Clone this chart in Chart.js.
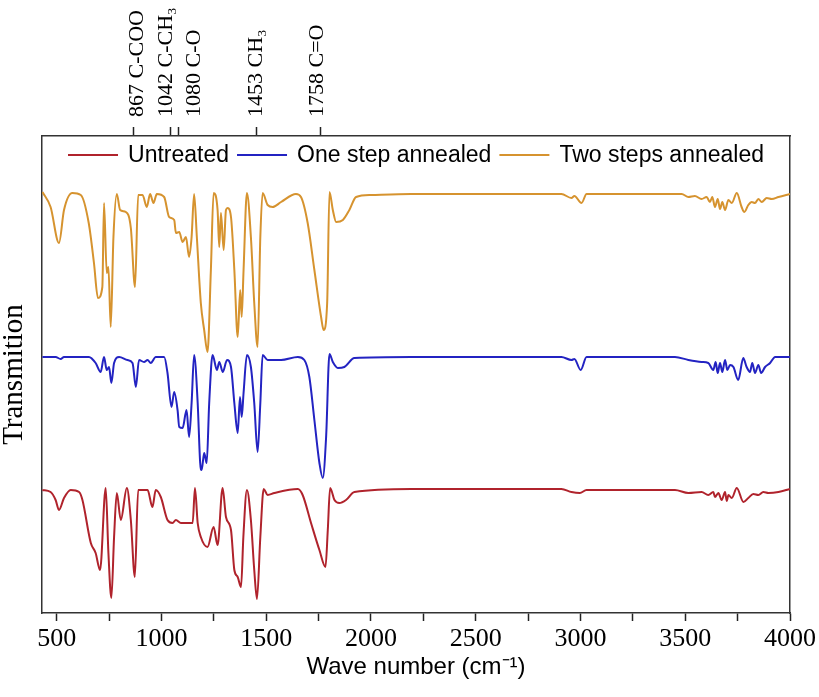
<!DOCTYPE html>
<html>
<head>
<meta charset="utf-8">
<title>FTIR spectra</title>
<script src="https://cdn.jsdelivr.net/npm/chart.js@4.4.1/dist/chart.umd.min.js"></script>
<style>
  html, body { margin: 0; padding: 0; background: #fff; }
  #wrap { width: 819px; height: 697px; }
</style>
</head>
<body>
<div id="wrap"><canvas id="ftirChart" width="819" height="697"></canvas></div>
<script>
// Wave numbers (cm-1) and transmission (a.u., curves stacked)
const untreatedWn = [432,471,495,511,535,567,607,623,663,686,707,734,747,761,774,787,806,835,854,873,889,934,957,973,997,1029,1053,1069,1093,1149,1160,1173,1188,1220,1249,1268,1292,1308,1332,1348,1364,1380,1391,1408,1427,1443,1456,1472,1488,1507,1539,1651,1674,1714,1754,1783,1794,1805,1826,1849,1881,1921,2192,2909,2957,2997,3029,3451,3515,3578,3610,3634,3642,3658,3674,3690,3698,3706,3722,3746,3778,3801,3825,3849,3873,3897,3945,4000];
const untreatedT = [123,121,113,103,115,123,121,113,70,60,43,125,60,15,76,120,93,125,93,36,123,123,106,123,116,93,90,93,90,90,125,90,76,66,86,68,125,96,83,43,36,26,76,123,93,43,14,76,124,118,120,124,118,90,63,46,83,125,113,110,113,121,124,124,121,120,123,123,120,121,118,121,116,120,113,121,112,118,115,125,111,115,119,118,121,120,121,124];

const oneStepWn = [432,495,519,535,654,686,710,726,739,750,761,774,798,838,862,878,893,917,934,949,973,1013,1029,1048,1061,1077,1085,1101,1120,1132,1144,1156,1173,1185,1192,1204,1216,1228,1244,1265,1276,1293,1313,1332,1348,1364,1375,1383,1392,1408,1427,1443,1459,1472,1483,1507,1571,1651,1682,1706,1730,1754,1770,1786,1802,1818,1842,1873,1921,2192,2909,2957,2971,3001,3029,3451,3515,3578,3610,3634,3645,3655,3666,3677,3690,3701,3714,3730,3753,3777,3793,3809,3820,3833,3849,3862,3881,3905,3929,4000];
const oneStepT = [256,256,254,256,256,250,241,256,243,246,230,250,256,253,250,226,253,251,253,250,256,256,240,206,221,203,186,185,203,176,210,258,210,150,143,160,150,210,258,243,251,241,253,246,210,180,216,196,220,258,246,210,161,210,258,253,253,256,253,236,193,150,135,176,259,251,245,246,255,256,256,253,254,243,256,256,253,251,250,243,251,240,250,241,253,243,248,246,233,255,246,241,250,240,248,240,246,250,256,256];

const twoStepsWn = [432,471,511,535,575,615,653,678,697,718,726,739,747,758,771,787,803,830,854,874,889,910,930,946,962,978,1013,1037,1061,1069,1085,1101,1117,1132,1144,1156,1169,1188,1204,1220,1236,1249,1268,1276,1284,1297,1308,1316,1332,1348,1364,1376,1383,1392,1408,1427,1443,1459,1472,1483,1507,1531,1571,1642,1666,1698,1730,1762,1774,1791,1802,1818,1834,1866,1897,1929,2001,2192,2909,2957,2971,3005,3029,3483,3515,3546,3578,3602,3618,3629,3642,3655,3666,3677,3690,3706,3722,3746,3769,3782,3801,3817,3833,3849,3865,3889,3913,3945,4000];
const twoStepsT = [421,406,370,403,420,418,390,350,315,326,410,340,346,286,376,419,403,401,385,326,418,418,406,419,410,419,416,396,393,380,381,371,376,356,376,419,376,310,283,261,343,420,403,366,400,363,403,405,396,343,276,323,296,343,420,376,310,266,376,420,408,406,411,419,416,390,343,296,283,310,421,403,391,393,403,416,418,419,419,415,417,410,419,419,416,417,414,416,411,416,406,414,404,411,403,413,410,420,406,401,408,411,410,414,411,415,414,416,419];

const seriesNames = ["Untreated", "One step annealed", "Two steps annealed"];
const seriesColors = ["#b0232c", "#2323c2", "#d6932f"];

// bottom axis ticks (labelled every 500)
const xTickValues = [500, 750, 1000, 1250, 1500, 1750, 2000, 2250, 2500, 2750, 3000, 3250, 3500, 3750, 4000];

// band assignments marked along the top of the frame
const bandPositions = [867, 1042, 1080, 1453, 1758];
const bandLabels = ["867 C-COO", "1042 C-CH\u2083", "1080 C-O", "1453 CH\u2083", "1758 C=O"];
// where each band label sits (kept apart where bands are close)
const bandLabelAt = [879, 1015, 1151, 1447, 1738];

function toPoints(wn, t) {
  return wn.map((x, i) => ({ x: x, y: t[i] }));
}

const seriesData = [
  toPoints(untreatedWn, untreatedT),
  toPoints(oneStepWn, oneStepT),
  toPoints(twoStepsWn, twoStepsT)
];

// legend drawn inside the frame, centred at the top
const insideLegend = {
  id: "insideLegend",
  afterDraw(chart) {
    const { ctx, chartArea } = chart;
    const sets = chart.data.datasets;
    const lineLen = 50, gap = 10, spacing = 8;
    ctx.save();
    ctx.font = '23px "Liberation Sans", Arial, sans-serif';
    ctx.textBaseline = "middle";
    const widths = sets.map(d => lineLen + gap + ctx.measureText(d.label).width);
    const total = widths.reduce((a, b) => a + b, 0) + spacing * (sets.length - 1);
    let x = (chartArea.left + chartArea.right) / 2 - total / 2;
    const y = chartArea.top + 19;
    sets.forEach((d, i) => {
      ctx.strokeStyle = d.borderColor;
      ctx.lineWidth = 2;
      ctx.beginPath();
      ctx.moveTo(x, y);
      ctx.lineTo(x + lineLen, y);
      ctx.stroke();
      ctx.fillStyle = "#000";
      ctx.fillText(d.label, x + lineLen + gap, y + 1);
      x += widths[i] + spacing;
    });
    ctx.restore();
  }
};

const frameColor = "#333";
const serif = "Liberation Serif";

const ctx = document.getElementById("ftirChart").getContext("2d");
const ftirChart = new Chart(ctx, {
  type: "line",
  data: {
    datasets: seriesNames.map((name, i) => ({
      label: name,
      data: seriesData[i],
      borderColor: seriesColors[i],
      backgroundColor: seriesColors[i],
      borderWidth: 2,
      pointRadius: 0,
      cubicInterpolationMode: "monotone",
      fill: false,
      xAxisID: "x",
      yAxisID: "y"
    }))
  },
  options: {
    responsive: false,
    animation: false,
    layout: { padding: 0 },
    plugins: {
      legend: { display: false },
      tooltip: { enabled: false }
    },
    scales: {
      x: {
        type: "linear",
        position: "bottom",
        min: 430,
        max: 4000,
        afterBuildTicks: s => { s.ticks = xTickValues.map(v => ({ value: v })); },
        afterFit: s => { s.height = 84; },
        ticks: {
          autoSkip: false,
          maxRotation: 0,
          padding: 3,
          color: "#000",
          font: { family: serif, size: 26 },
          callback: v => (v % 500 === 0 ? String(v) : "")
        },
        grid: { drawOnChartArea: false, drawTicks: true, tickLength: 8, tickColor: "#222", tickWidth: 1.5 },
        border: { display: true, color: frameColor, width: 1.5 },
        title: {
          display: true,
          text: "Wave number (cm\u207B\u00B9)",
          color: "#000",
          font: { family: "Liberation Sans", size: 24 },
          padding: { top: 0, bottom: 15 }
        }
      },
      xTop: {
        type: "linear",
        position: "top",
        weight: 0,
        min: 430,
        max: 4000,
        afterBuildTicks: s => { s.ticks = bandPositions.map(v => ({ value: v })); },
        afterFit: s => { s.height = 9; },
        ticks: { autoSkip: false, maxRotation: 0, padding: 0, callback: () => "" },
        grid: { drawOnChartArea: false, drawTicks: true, tickLength: 9, tickColor: "#222", tickWidth: 1.5 },
        border: { display: true, color: frameColor, width: 1.5 }
      },
      xBand: {
        type: "linear",
        position: "top",
        weight: 1,
        min: 430,
        max: 4000,
        afterBuildTicks: s => { s.ticks = bandLabelAt.map(v => ({ value: v })); },
        afterFit: s => { s.height = 127; },
        ticks: {
          autoSkip: false,
          minRotation: 90,
          maxRotation: 90,
          padding: 10,
          labelOffset: 28,
          color: "#000",
          font: { family: serif, size: 22 },
          callback: (v, i) => bandLabels[i]
        },
        grid: { display: false, drawOnChartArea: false, drawTicks: false },
        border: { display: false }
      },
      y: {
        type: "linear",
        position: "left",
        min: 0,
        max: 477,
        afterFit: s => { s.width = 42; },
        ticks: { display: false },
        grid: { drawOnChartArea: false, drawTicks: false },
        border: { display: true, color: frameColor, width: 1.5 },
        title: {
          display: true,
          text: "Transmition",
          color: "#000",
          font: { family: serif, size: 29, lineHeight: 1 },
          padding: 0
        }
      },
      yRight: {
        type: "linear",
        position: "right",
        min: 0,
        max: 1,
        afterFit: s => { s.width = 29; },
        ticks: { display: false },
        grid: { drawOnChartArea: false, drawTicks: false },
        border: { display: true, color: frameColor, width: 1.5 }
      }
    }
  },
  plugins: [insideLegend]
});
</script>
</body>
</html>
